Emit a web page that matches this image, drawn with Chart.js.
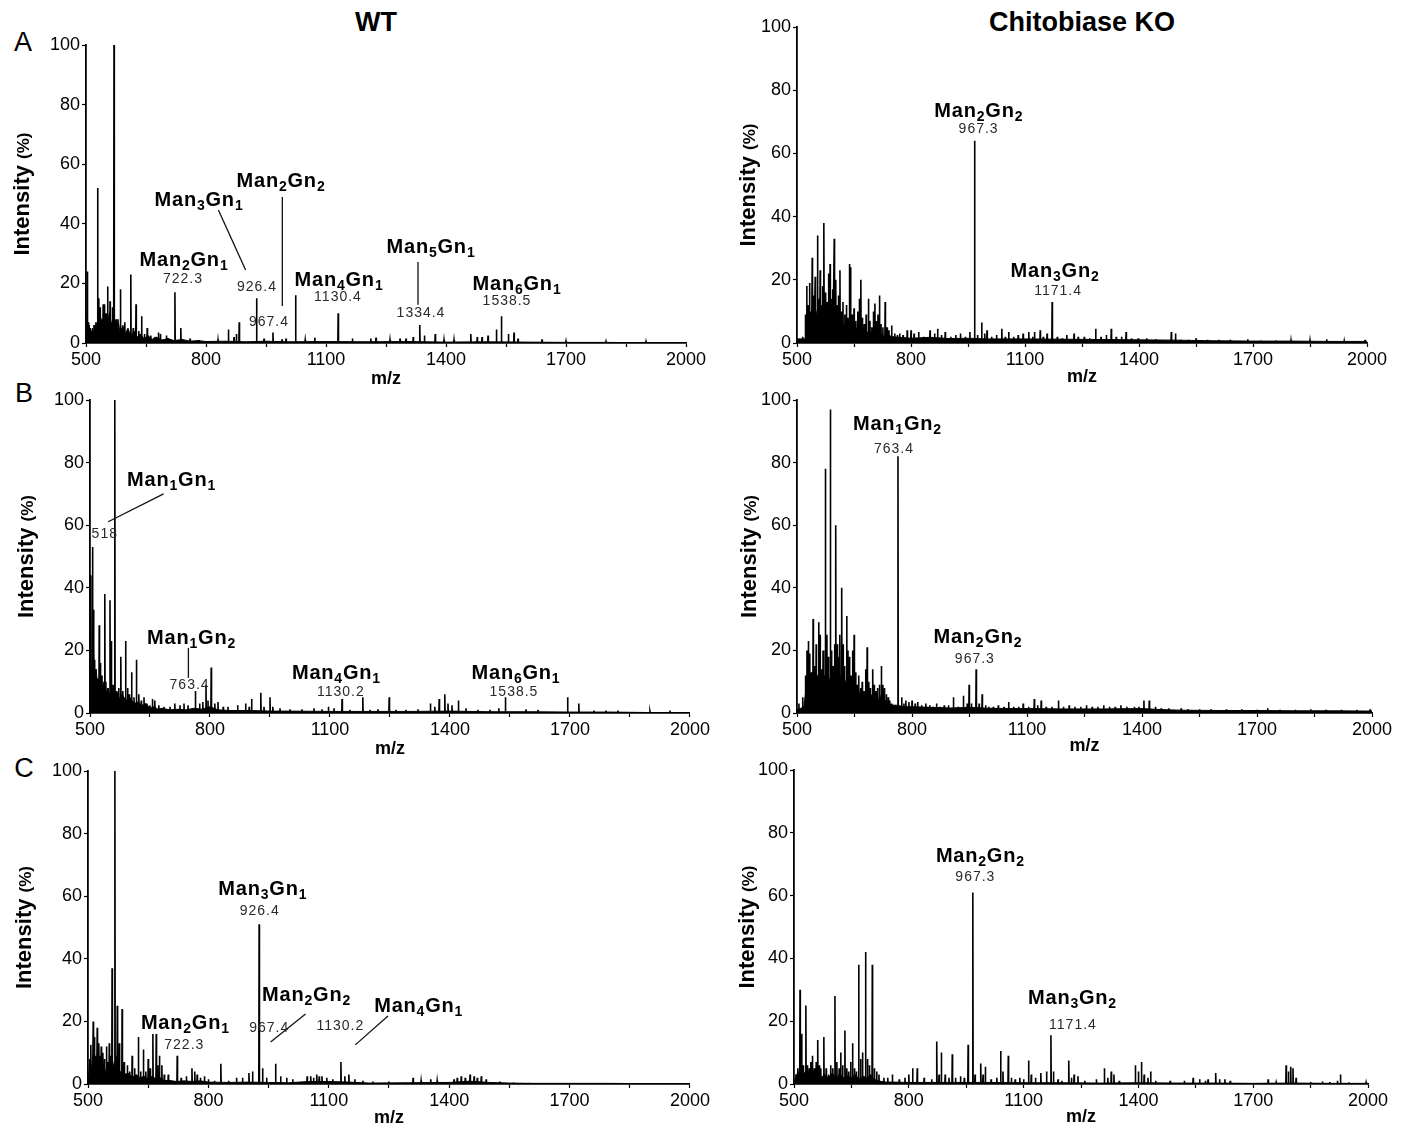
<!DOCTYPE html>
<html>
<head>
<meta charset="utf-8">
<title>MALDI spectra – WT vs Chitobiase KO</title>
<script src="https://cdn.jsdelivr.net/npm/chart.js@4.4.1/dist/chart.umd.min.js"></script>
<style>
  html, body { margin: 0; padding: 0; background: #fff; }
  #figure {
    position: relative; width: 1408px; height: 1126px; overflow: hidden;
    font-family: "Liberation Sans", Arial, Helvetica, sans-serif; color: #000;
  }
  #figure canvas { position: absolute; }
  .col-title, .panel-letter {
    position: absolute; transform: translate(-50%, -50%); white-space: nowrap; line-height: 1;
  }
  .col-title { font-weight: bold; font-size: 27px; }
  .panel-letter { font-size: 27px; }
</style>
</head>
<body>
<div id="figure">
  <div class="col-title" style="left:376px; top:22px;">WT</div>
  <div class="col-title" style="left:1082px; top:22px;">Chitobiase KO</div>
  <div class="panel-letter" style="left:23px; top:42px;">A</div>
  <div class="panel-letter" style="left:24px; top:393px;">B</div>
  <div class="panel-letter" style="left:24px; top:768px;">C</div>
</div>

<script>
/* ---------- AXES ---------- */
const xTicks = [500, 650, 800, 950, 1100, 1250, 1400, 1550, 1700, 1850, 2000];
const xTickLabels = [500, 800, 1100, 1400, 1700, 2000];
const yTicks = [0, 20, 40, 60, 80, 100];

/* ---------- SPECTRA: [m/z, relative intensity %] ---------- */
// A / WT
const wtA_peaks = [
  [503, 24], [506, 7], [510, 5], [514, 4], [520, 6], [529, 52], [532, 15], [535, 12], [540, 8], [543, 13],
  [546, 13], [550, 10], [554, 19], [560, 14], [566, 12], [570, 100], [575, 8], [580, 6], [586, 18], [591, 5],
  [597, 7], [603, 4], [612, 23], [618, 5], [625, 13], [632, 4], [639, 9], [646, 3], [653, 5], [662, 2.5],
  [672, 2], [681, 3.5], [686, 3], [701, 2.5], [722.3, 17], [737, 5], [760, 1.5], [782, 1], [830, 1], [856, 4.5],
  [870, 2], [876, 3], [883, 7], [926.4, 15], [945, 1.5], [967.4, 3.5], [990, 1.2], [1000, 1.5], [1024, 16], [1048, 1],
  [1072, 1.8], [1130.4, 10], [1166, 1.5], [1212, 1.5], [1225, 1.8], [1260, 1], [1285, 1.5], [1300, 1.5], [1318, 2], [1334.4, 6],
  [1346, 2.5], [1373, 3], [1395, 1], [1420, 1], [1462, 3], [1478, 2], [1490, 2], [1505, 2.5], [1526, 4.5], [1538.5, 9],
  [1556, 3], [1570, 3.5], [1580, 1.5], [1640, 1.2], [1700, 0.6], [1800, 0.5], [1900, 0.5]
];
const wtA_floor = [
  [500, 0], [503, 3], [508, 6], [512, 2], [516, 5], [520, 3], [525, 7], [530, 4], [536, 9], [542, 5],
  [548, 8], [552, 4], [558, 10], [563, 6], [568, 9], [574, 4], [580, 8], [585, 3], [592, 6], [598, 3],
  [605, 5], [612, 2], [620, 4], [628, 2], [636, 3], [645, 1.5], [655, 2.5], [665, 1.2], [675, 2], [690, 1],
  [705, 1.5], [720, 0.8], [740, 1.2], [760, 0.6], [780, 0.8], [800, 0.5], [850, 0.6], [900, 0.4], [950, 0.6], [1000, 0.4],
  [1100, 0.5], [1200, 0.4], [1300, 0.5], [1400, 0.3], [1500, 0.4], [1600, 0.3], [1700, 0.2], [1800, 0.2], [2000, 0]
];

// A / Chitobiase KO
const koA_peaks = [
  [515, 2], [522, 9], [525.5, 18], [529, 12], [533, 19], [537, 10], [540, 27], [544, 15], [548, 21], [551, 9],
  [554, 34], [558, 14], [561, 23], [565, 12], [568, 18], [571, 38], [575, 16], [579, 13], [583, 22], [587, 25],
  [591, 14], [594, 17], [598, 33], [602, 20], [606, 12], [609, 15], [613, 23], [617, 10], [621, 13], [626, 9],
  [630, 12], [634, 8], [638, 25], [641, 24], [645, 9], [650, 11], [655, 7], [660, 10], [664, 14], [668, 20],
  [672, 8], [677, 6], [682, 9], [688, 14], [692, 7], [697, 5], [701, 10], [705, 12.5], [709, 7], [713, 9],
  [717, 15], [721, 6], [726, 5], [732, 13], [737, 5], [742, 4], [749, 5.5], [757, 3], [764, 2.5], [770, 3],
  [779, 2.5], [790, 4], [800, 4], [808, 3], [820, 3.5], [833, 2], [850, 4], [862, 3], [870, 4.5], [880, 2.5],
  [890, 3.5], [905, 2], [918, 2.5], [930, 3], [943, 2], [955, 3.5], [967.3, 64], [975, 2.5], [986, 6.5], [994, 3],
  [1000, 4], [1012, 2], [1025, 2.5], [1039, 4.5], [1048, 2], [1057, 3.5], [1070, 2], [1082, 2.5], [1095, 3], [1110, 3.5],
  [1120, 2], [1125, 3.5], [1140, 4], [1148, 2], [1158, 3], [1171.4, 13], [1185, 2], [1198, 1.5], [1210, 2.5], [1229, 3],
  [1240, 2], [1256, 2], [1270, 1.5], [1286, 4.5], [1300, 2], [1314, 2.5], [1327, 4.5], [1340, 2], [1354, 2], [1366, 3.5],
  [1380, 1.5], [1398, 1.5], [1420, 1.5], [1445, 1.2], [1485, 3.5], [1496, 3], [1510, 1], [1530, 1], [1550, 1.5], [1580, 1],
  [1610, 1], [1640, 1], [1686, 1.2], [1720, 0.8], [1760, 0.8], [1800, 0.8], [1850, 0.8], [1894, 1.2], [1940, 0.6], [1995, 1]
];
const koA_floor = [
  [500, 1.3], [522, 1.3], [524, 5], [530, 9], [536, 6], [542, 10], [548, 7], [554, 11], [560, 8], [566, 10],
  [572, 6], [578, 9], [584, 7], [590, 10], [596, 5], [602, 8], [608, 6], [614, 7], [620, 4], [626, 6],
  [632, 5], [638, 7], [644, 3], [650, 5], [656, 4], [662, 6], [668, 3], [674, 5], [680, 4], [690, 3],
  [700, 4], [710, 2.5], [720, 3], [730, 2], [740, 2.5], [750, 2], [770, 1.8], [800, 1.5], [850, 1.8], [900, 1.4],
  [950, 1.5], [1000, 1.3], [1100, 1.3], [1200, 1.2], [1300, 1.1], [1400, 1], [1500, 0.9], [1600, 0.7], [1700, 0.6], [1800, 0.6],
  [1900, 0.5], [2000, 0.5]
];

// B / WT
const wtB_peaks = [
  [502, 44], [506, 53], [508, 33], [510, 22], [512, 17], [515, 14], [518, 11], [523, 28], [526, 16], [530, 12],
  [533, 9], [537, 38], [540, 10], [544, 8], [550, 36], [553, 23], [558, 9], [562, 100], [567, 7], [572, 8],
  [577, 18], [582, 7], [589, 23], [594, 8], [598, 6], [604, 13], [610, 5], [616, 17], [622, 6], [628, 4],
  [635, 5], [642, 3], [650, 2.5], [656, 4.5], [662, 4], [672, 2.5], [685, 2], [700, 2], [712, 3], [725, 2.5],
  [735, 3], [745, 2.5], [763.4, 7], [774, 3], [782, 3.5], [790, 9], [795, 4], [803, 14.5], [812, 3], [820, 3.5],
  [833, 2], [845, 2], [869, 2.5], [889, 3], [898, 2], [904, 4.5], [927, 6.5], [935, 2], [950, 5], [957, 2],
  [975, 1.5], [1000, 1.2], [1030, 1.2], [1060, 1.5], [1080, 1.2], [1096, 2], [1110, 1.5], [1130.2, 4.5], [1150, 1], [1182, 5],
  [1200, 1], [1220, 1.2], [1248, 5], [1265, 1], [1290, 1], [1320, 1.2], [1351, 3], [1362, 2], [1373, 4.5], [1387, 6],
  [1395, 3], [1405, 2.5], [1421, 4], [1440, 1.5], [1470, 1], [1500, 1], [1522, 1.5], [1538.5, 5], [1590, 1.2], [1620, 1],
  [1694, 5], [1722, 3], [1760, 0.8], [1790, 0.8], [1820, 0.8], [1900, 0.5], [1950, 0.8]
];
const wtB_floor = [
  [500, 0], [502, 12], [506, 16], [510, 10], [515, 14], [520, 8], [525, 11], [530, 7], [535, 10], [540, 6],
  [545, 8], [550, 5], [555, 8], [560, 5], [565, 7], [570, 6], [575, 4], [580, 6], [590, 4], [600, 5],
  [610, 3], [620, 3.5], [630, 2.5], [640, 3], [650, 1.5], [660, 2], [670, 1.2], [680, 1.5], [700, 1], [720, 1.2],
  [740, 1], [760, 1.5], [780, 1.2], [800, 2], [820, 1], [850, 0.8], [900, 0.8], [950, 0.6], [1000, 0.6], [1100, 0.5],
  [1200, 0.5], [1300, 0.5], [1400, 0.6], [1500, 0.4], [1600, 0.4], [1700, 0.3], [1800, 0.3], [2000, 0]
];

// B / Chitobiase KO
const koB_peaks = [
  [505, 3], [515, 5], [522, 12], [526, 20], [529.6, 23], [533, 19], [537, 13], [542, 30], [546, 15], [550, 22],
  [553, 12], [556.5, 29], [560, 25], [564, 14], [568, 20], [571, 12], [574, 78], [578, 25], [582, 18], [587, 97],
  [590, 20], [594, 15], [598, 22], [601, 60], [605, 22], [609, 18], [612, 25], [616.6, 40], [620, 22], [624, 15],
  [629.6, 31], [633, 20], [637, 18], [641, 12], [645, 20], [649, 25], [653, 13], [657, 9], [661, 12], [666, 8],
  [670, 10], [675, 7], [679, 14], [683, 21], [687, 10], [691, 8], [697.5, 14], [701, 9], [706, 7], [710, 8],
  [715, 9], [720, 15], [724, 9], [728, 8], [733, 6], [738, 5], [742, 4], [747, 3], [763.4, 82], [773, 5],
  [779, 3], [784, 4], [792, 3.5], [800, 4], [808, 3], [815, 3.5], [825, 2.5], [836, 3], [846, 2.5], [855, 2],
  [864, 3], [873, 2], [884, 2.5], [895, 2.5], [908, 5], [920, 2], [934, 5.5], [944, 3], [949, 9], [955, 3],
  [967.3, 14], [975, 3], [983, 6], [992, 2.5], [1000, 2], [1012, 2], [1025, 2.5], [1040, 2], [1052, 3.5], [1065, 2],
  [1078, 2], [1090, 3], [1104, 2], [1119, 4.5], [1128, 2.5], [1137, 4], [1150, 2], [1165, 2], [1182, 4], [1195, 2],
  [1210, 2.5], [1225, 2], [1240, 2], [1255, 2.5], [1270, 2], [1285, 2], [1300, 2.5], [1315, 2], [1330, 2], [1345, 2.5],
  [1360, 2], [1380, 2], [1392, 2], [1405, 4], [1419, 4], [1435, 2], [1450, 1.5], [1470, 1.5], [1502, 1.5], [1520, 1.2],
  [1550, 1.2], [1580, 1.2], [1620, 1.2], [1660, 1.2], [1700, 1], [1728, 1.5], [1760, 1], [1800, 1], [1840, 1.2], [1880, 1],
  [1920, 1], [1960, 1], [1995, 1.2]
];
const koB_floor = [
  [500, 1], [510, 1.5], [518, 2], [522, 6], [528, 10], [534, 5], [540, 11], [546, 7], [552, 12], [558, 8],
  [564, 13], [570, 9], [576, 14], [582, 9], [588, 12], [594, 8], [600, 14], [606, 9], [612, 12], [618, 7],
  [624, 11], [630, 8], [636, 10], [642, 6], [648, 9], [654, 6], [660, 8], [666, 4], [672, 7], [678, 5],
  [684, 8], [690, 4], [696, 6], [702, 3.5], [708, 6], [714, 3.5], [720, 6], [726, 3.5], [732, 4], [740, 3],
  [750, 2.5], [760, 2.5], [780, 2], [800, 2], [850, 1.8], [900, 1.6], [950, 1.8], [1000, 1.5], [1100, 1.4], [1200, 1.3],
  [1300, 1.3], [1400, 1.4], [1450, 1.1], [1500, 0.9], [1600, 0.8], [1700, 0.8], [1800, 0.7], [1900, 0.7], [2000, 0.6]
];

// C / WT
const wtC_peaks = [
  [504, 8], [507, 12.5], [510, 6], [513, 20], [516, 15], [520, 9], [523, 18], [527, 13], [530, 9], [533, 12],
  [537, 10], [541, 8], [546, 12], [549, 7], [553, 13], [556, 9], [560, 37], [567, 100], [573, 25], [578, 13],
  [585, 24], [590, 7], [598, 6], [604, 4], [610, 9], [616, 5], [625.5, 15], [631, 4], [638, 11], [644, 4],
  [650, 8], [655, 5], [661.7, 16], [670, 16], [674, 6], [678, 9], [684, 6], [690, 3], [700, 3], [722.3, 9],
  [732, 2], [745, 2.5], [759, 5], [766, 4], [772, 3], [780, 2], [790, 2.5], [800, 1.5], [815, 1], [831, 6.5],
  [850, 1], [870, 2], [885, 2], [901, 3.5], [910, 4], [926.4, 51], [935, 5], [945, 2], [967.4, 6.5], [980, 2.5],
  [995, 2], [1010, 1.5], [1046, 2.5], [1055, 2.5], [1062, 2], [1070, 3], [1076, 2.5], [1083, 2.5], [1095, 2], [1110, 1.5],
  [1130.2, 7], [1140, 2.5], [1150, 3], [1165, 1.5], [1185, 1], [1210, 0.8], [1250, 0.8], [1310, 2], [1330, 1], [1354, 1.5],
  [1370, 1], [1412, 1.5], [1420, 2], [1430, 2.5], [1440, 2], [1452, 3], [1462, 2.5], [1470, 2], [1480, 2.5], [1492, 1.5],
  [1526, 0.8], [1560, 0.5], [1600, 0.4]
];
const wtC_floor = [
  [500, 0], [504, 7], [508, 4], [512, 9], [516, 5], [520, 8], [525, 4], [530, 7], [535, 5], [540, 6],
  [545, 3], [550, 6], [555, 4], [560, 8], [565, 5], [570, 9], [575, 5], [580, 4], [590, 3], [600, 3.5],
  [610, 2], [620, 3], [630, 2], [640, 2.5], [650, 1.5], [660, 2.5], [670, 1.5], [680, 2], [690, 1], [700, 1.2],
  [720, 0.8], [740, 1], [760, 0.8], [780, 1], [800, 0.6], [850, 0.5], [900, 0.6], [950, 0.5], [1000, 0.4], [1050, 0.8],
  [1100, 0.8], [1150, 0.6], [1200, 0.3], [1300, 0.4], [1400, 0.5], [1450, 0.9], [1500, 0.5], [1550, 0.3], [1600, 0.2], [1800, 0.2],
  [2000, 0]
];

// C / Chitobiase KO
const koC_peaks = [
  [505, 3], [510, 5], [515.7, 30], [520, 16], [524, 6], [531, 25], [535, 6], [540, 5], [544, 7], [548, 9],
  [553, 5], [558, 7], [562, 14], [566, 6], [570, 5], [578, 15], [584, 5], [590, 3], [596, 6], [601, 5],
  [607, 28], [612, 7], [618, 5], [622, 10], [627, 6], [633, 17], [638, 5], [643, 4], [648, 7], [653, 13],
  [658, 5], [663, 4], [669, 38], [674, 8], [679, 10], [687, 42], [692, 8], [697, 6], [704.6, 38], [710, 5],
  [716, 4], [722, 3], [735, 2], [745, 2], [757, 3], [775, 1.5], [790, 2], [800, 3], [810, 5], [822, 5],
  [840, 2], [860, 1.5], [873, 13.5], [879, 3], [885, 10], [895, 3], [905, 2], [913.6, 9.5], [922, 2], [935, 2.5],
  [945, 2], [955, 12.5], [967.3, 61], [973, 3], [988, 6.5], [994, 3], [1000, 5.5], [1015, 1.5], [1030, 2], [1040, 10.5],
  [1046, 4], [1060, 9], [1068, 2], [1078, 1.5], [1090, 2], [1100, 1.5], [1113, 7.5], [1120, 3], [1131, 2], [1145, 3.5],
  [1160, 4], [1171.4, 15.5], [1178, 4], [1190, 1.5], [1200, 1], [1218, 7.5], [1225, 2], [1232, 3], [1242, 2.5], [1260, 1],
  [1290, 1.5], [1311, 5], [1320, 2], [1329, 4], [1336, 3], [1350, 1], [1392, 6], [1400, 4], [1408, 7], [1415, 3],
  [1425, 2], [1432, 4], [1445, 1], [1483, 1], [1520, 1], [1543, 2], [1560, 1.5], [1575, 1], [1582, 1.5], [1602, 3.5],
  [1612, 1.5], [1626, 1.5], [1640, 1], [1739, 1.5], [1760, 0.5], [1786, 6], [1792, 4], [1798, 5.5], [1804, 5], [1812, 2],
  [1850, 0.6], [1881, 0.8], [1900, 0.6], [1920, 1], [1928, 3], [1950, 0.5], [1995, 0.5]
];
const koC_floor = [
  [500, 0.5], [505, 2], [510, 4], [515, 2], [520, 5], [525, 3], [530, 4], [535, 2], [540, 5], [545, 3],
  [550, 4], [555, 2], [560, 3], [565, 4], [570, 2], [580, 3], [590, 2], [600, 3.5], [610, 2], [620, 3],
  [630, 2], [640, 2.5], [650, 2], [660, 3], [670, 1.5], [680, 2.5], [690, 2], [700, 3], [710, 1.5], [720, 1],
  [740, 0.6], [760, 0.6], [800, 0.5], [900, 0.5], [1000, 0.5], [1100, 0.4], [1200, 0.4], [1300, 0.3], [1400, 0.4], [1500, 0.3],
  [1600, 0.3], [1700, 0.2], [1800, 0.3], [1900, 0.2], [2000, 0.2]
];

/* ---------- PEAK ANNOTATIONS (text, m/z, intensity at text centre) ---------- */
const wtA_names = [['Man2Gn1', 745, 28.2], ['Man3Gn1', 782.5, 48.3], ['Man2Gn2', 987.5, 54.7],
                   ['Man4Gn1', 1132.5, 21.5], ['Man5Gn1', 1362.5, 32.6], ['Man6Gn1', 1577.5, 20.1]];
const wtA_values = [['722.3', 742.5, 21.5], ['926.4', 927.5, 18.8], ['967.4', 957.5, 7.0],
                    ['1130.4', 1130, 15.4], ['1334.4', 1337.5, 10.1], ['1538.5', 1552.5, 14.1]];
const wtA_leaders = [[831, 44.6, 899, 24.5], [990.8, 49, 990.8, 12.4], [1330, 27.2, 1330, 12.8]];

const koA_names = [['Man2Gn2', 978.5, 73.7], ['Man3Gn2', 1179, 23.1]];
const koA_values = [['967.3', 978, 67.7], ['1171.4', 1187, 16.5]];
const koA_leaders = [];

const wtB_names = [['Man1Gn1', 704, 74.8], ['Man1Gn2', 754, 24.3], ['Man4Gn1', 1116, 13.1], ['Man6Gn1', 1565, 13.1]];
const wtB_values = [['518', 537, 57.2], ['763.4', 749, 8.9], ['1130.2', 1127, 6.7], ['1538.5', 1560, 6.7]];
const wtB_leaders = [[684, 70, 545.5, 61.1], [746, 20.8, 746, 11.2]];

const koB_names = [['Man1Gn2', 762, 92.7], ['Man2Gn2', 972, 24.6]];
const koB_values = [['763.4', 753, 84.3], ['967.3', 964, 17.3]];
const koB_leaders = [];

const wtC_names = [['Man3Gn1', 935.6, 62.6], ['Man2Gn2', 1044.6, 28.8], ['Man4Gn1', 1324, 25.2], ['Man2Gn1', 742.6, 19.8]];
const wtC_values = [['926.4', 928, 55.3], ['967.4', 951.7, 17.9], ['1130.2', 1128.7, 18.5], ['722.3', 740, 12.5]];
const wtC_leaders = [[1042, 22.4, 955, 13.4], [1247.5, 21.7, 1166, 12.5]];

const koC_names = [['Man2Gn2', 987, 72.9], ['Man3Gn2', 1227.7, 27.7]];
const koC_values = [['967.3', 974, 65.9], ['1171.4', 1229, 18.8]];
const koC_leaders = [];

/* ---------- PANEL LAYOUT (page px) ---------- */
// box = canvas [left, top, width, height]; area = plot [left, top, right, bottom]
const panels = [
  { box: [0, 0, 712, 392],     area: [86, 45, 686, 343],    titleGap: 65, mzGap: 36,
    peaks: wtA_peaks, floor: wtA_floor, names: wtA_names, values: wtA_values, leaders: wtA_leaders },
  { box: [700, 0, 708, 392],   area: [797, 27, 1367, 343],  titleGap: 50, mzGap: 34,
    peaks: koA_peaks, floor: koA_floor, names: koA_names, values: koA_values, leaders: koA_leaders },
  { box: [0, 385, 712, 375],   area: [90, 400, 693, 713],   titleGap: 65, mzGap: 36,
    peaks: wtB_peaks, floor: wtB_floor, names: wtB_names, values: wtB_values, leaders: wtB_leaders },
  { box: [700, 385, 708, 375], area: [797, 400, 1372, 713], titleGap: 49, mzGap: 33,
    peaks: koB_peaks, floor: koB_floor, names: koB_names, values: koB_values, leaders: koB_leaders },
  { box: [0, 755, 712, 371],   area: [88, 771, 693, 1084],  titleGap: 65, mzGap: 34,
    peaks: wtC_peaks, floor: wtC_floor, names: wtC_names, values: wtC_values, leaders: wtC_leaders },
  { box: [700, 755, 708, 371], area: [794, 770, 1368, 1084], titleGap: 48, mzGap: 33,
    peaks: koC_peaks, floor: koC_floor, names: koC_names, values: koC_values, leaders: koC_leaders }
];

const FONT = '"Liberation Sans", Arial, Helvetica, sans-serif';

/* ---------- HELPERS ---------- */
// each centroid becomes a narrow spike: 0 -> h -> 0
function spikePoints(peaks) {
  const pts = [];
  peaks.slice().sort((a, b) => a[0] - b[0]).forEach(([m, h]) => {
    pts.push({ x: m - 0.8, y: 0 }, { x: m, y: h }, { x: m + 0.8, y: 0 });
  });
  return pts;
}

function floorPoints(floor) {
  return floor.map(([m, h]) => ({ x: m, y: h }));
}

// "Man2Gn1" -> bold text with the digits set as subscripts
function drawGlycan(ctx, text, cx, cy) {
  const parts = text.match(/[A-Za-z]+|\d+/g);
  const big = 'bold 20px ' + FONT;
  const small = 'bold 14px ' + FONT;
  ctx.letterSpacing = '0.8px';
  let w = 0;
  parts.forEach(s => { ctx.font = /\d/.test(s) ? small : big; w += ctx.measureText(s).width; });
  let x0 = cx - w / 2;
  ctx.textAlign = 'left';
  ctx.textBaseline = 'alphabetic';
  parts.forEach(s => {
    const sub = /\d/.test(s);
    ctx.font = sub ? small : big;
    ctx.fillText(s, x0, cy + 7 + (sub ? 4 : 0));
    x0 += ctx.measureText(s).width;
  });
  ctx.letterSpacing = '0px';
}

function labelPlugin(p) {
  return {
    id: 'spectrumLabels',
    afterDatasetsDraw(chart) {
      const { ctx, chartArea, scales: { x, y } } = chart;
      ctx.save();
      ctx.fillStyle = '#000';

      // leader lines
      ctx.strokeStyle = '#111';
      ctx.lineWidth = 1.3;
      p.leaders.forEach(([x1, y1, x2, y2]) => {
        ctx.beginPath();
        ctx.moveTo(x.getPixelForValue(x1), y.getPixelForValue(y1));
        ctx.lineTo(x.getPixelForValue(x2), y.getPixelForValue(y2));
        ctx.stroke();
      });

      // glycan names
      p.names.forEach(([t, mx, iy]) => drawGlycan(ctx, t, x.getPixelForValue(mx), y.getPixelForValue(iy)));

      // m/z values
      ctx.fillStyle = '#2a2a2a';
      ctx.font = '14px ' + FONT;
      ctx.letterSpacing = '1px';
      ctx.textAlign = 'center';
      ctx.textBaseline = 'middle';
      p.values.forEach(([t, mx, iy]) => ctx.fillText(t, x.getPixelForValue(mx), y.getPixelForValue(iy)));
      ctx.letterSpacing = '0px';

      // axis titles
      ctx.fillStyle = '#000';
      ctx.font = 'bold 18px ' + FONT;
      ctx.textAlign = 'center';
      ctx.textBaseline = 'middle';
      ctx.fillText('m/z', (chartArea.left + chartArea.right) / 2, chartArea.bottom + p.mzGap);

      ctx.translate(chartArea.left - p.titleGap, (chartArea.top + chartArea.bottom) / 2);
      ctx.rotate(-Math.PI / 2);
      const f1 = 'bold 22px ' + FONT, f2 = 'bold 17px ' + FONT;
      ctx.font = f1; const w1 = ctx.measureText('Intensity ').width;
      ctx.font = f2; const w2 = ctx.measureText('(%)').width;
      const sx = -(w1 + w2) / 2;
      ctx.textAlign = 'left';
      ctx.textBaseline = 'alphabetic';
      ctx.font = f1; ctx.fillText('Intensity ', sx, 8);
      ctx.font = f2; ctx.fillText('(%)', sx + w1, 8);
      ctx.restore();
    }
  };
}

/* ---------- CHARTS ---------- */
const fig = document.getElementById('figure');

function makeChart(p) {
  const [bx, by, bw, bh] = p.box;
  const [al, at, ar, ab] = p.area;
  const cv = document.createElement('canvas');
  cv.width = bw; cv.height = bh;
  cv.style.left = bx + 'px'; cv.style.top = by + 'px';
  cv.style.width = bw + 'px'; cv.style.height = bh + 'px';
  fig.appendChild(cv);

  const tickFont = { family: FONT, size: 18 };

  return new Chart(cv, {
    type: 'line',
    data: {
      datasets: [
        { data: floorPoints(p.floor), fill: 'origin', backgroundColor: '#000', borderColor: '#000',
          borderWidth: 1, pointRadius: 0, tension: 0 },
        { data: spikePoints(p.peaks), fill: false, borderColor: '#000',
          borderWidth: 1.6, pointRadius: 0, tension: 0 }
      ]
    },
    options: {
      responsive: false, animation: false, devicePixelRatio: 1,
      events: [],
      layout: { padding: { left: 0, top: at - by, right: bx + bw - ar, bottom: 0 } },
      plugins: { legend: { display: false }, tooltip: { enabled: false } },
      scales: {
        x: {
          type: 'linear', min: 500, max: 2000,
          afterBuildTicks: s => { s.ticks = xTicks.map(v => ({ value: v })); },
          afterFit: s => { s.height = by + bh - ab; },
          grid: { display: true, drawOnChartArea: false, tickLength: 4, tickColor: '#000', tickWidth: 1.2 },
          border: { display: true, color: '#000', width: 1.8 },
          ticks: { autoSkip: false, maxRotation: 0, padding: 2, color: '#000', font: tickFont,
                   callback: v => xTickLabels.includes(v) ? String(v) : '' }
        },
        y: {
          type: 'linear', min: 0, max: 100,
          afterBuildTicks: s => { s.ticks = yTicks.map(v => ({ value: v })); },
          afterFit: s => { s.width = al - bx; },
          grid: { display: true, drawOnChartArea: false, tickLength: 4, tickColor: '#000', tickWidth: 1.2 },
          border: { display: true, color: '#000', width: 1.8 },
          ticks: { padding: 2, color: '#000', font: tickFont }
        }
      }
    },
    plugins: [labelPlugin(p)]
  });
}

panels.forEach(makeChart);
</script>
</body>
</html>
